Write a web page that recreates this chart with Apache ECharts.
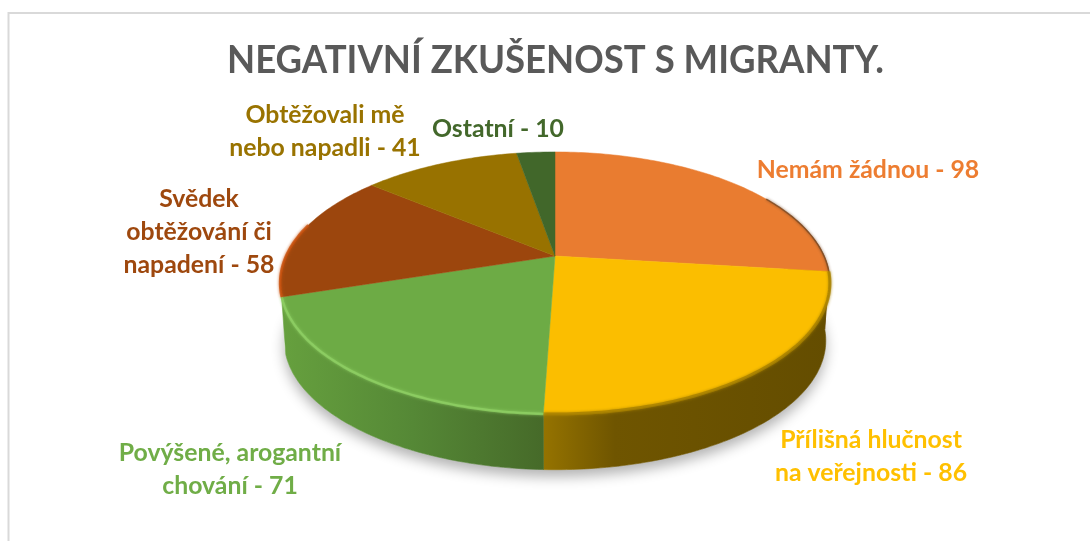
<!DOCTYPE html>
<html><head><meta charset="utf-8">
<style>html,body{margin:0;padding:0;background:#fff}#c{width:1090px;height:541px}</style>
<script src="https://cdn.jsdelivr.net/npm/echarts@6/dist/echarts.min.js"></script>
</head><body><div id="c"></div>
<script>
const chartTitle = 'NEGATIVNÍ ZKUŠENOST S MIGRANTY.';
const categories = ['Nemám žádnou', 'Přílišná hlučnost\nna veřejnosti', 'Povýšené, arogantní\nchování', 'Svědek\nobtěžování či\nnapadení', 'Obtěžovali mě\nnebo napadli', 'Ostatní'];
const values = [98, 86, 71, 58, 41, 10];
const topColors = ['#E97C30', '#FBBE00', '#6DAB45', '#9C460D', '#987200', '#41672A'];
const labelColors = ['#ED7D31', '#FFC000', '#70AD47', '#9E480E', '#997300', '#43682B'];
const sideStops = [
  [[0, '#8f5a2a'], [1, '#6e4318']],
  [[0, '#957300'], [0.25, '#6f5500'], [1, '#644d00']],
  [[0, '#66a03e'], [0.5, '#558836'], [1, '#466a29']],
  null, null, null
];
const rimColors = ['#7a4a24', '#a88100', '#8fd064', '#c9530f', null, null];
const rimWidths = [1.5, 3, 2.5, 2.5, 0, 0];
const labelAnchors = [[868,170],[871,457],[230,470],[199,232],[325,132],[498,129]];

const total = values.reduce((a, b) => a + b, 0);
const starts = [];
values.reduce((acc, v, i) => (starts[i] = acc, acc + v), 0);

// Perspective projection of the pie disc: 0 deg at the top, running clockwise.
const CX = 555, CY = 256, BX = 269, AY = 125.5, K = 0.206;
function topRim(th) {
  const r = th * Math.PI / 180, w = 1 + K * Math.cos(r);
  return [CX + BX * Math.sin(r) / w, CY - AY * Math.cos(r) / w];
}
function bottomRim(th) {
  const r = th * Math.PI / 180, w = 1 + K * Math.cos(r), S = 0.985, D = 58;
  return [CX + BX * S * Math.sin(r) / w, CY + D - AY * S * Math.cos(r) / w];
}
function arc(fn, a, b) {
  const pts = [], n = Math.max(2, Math.ceil(Math.abs(b - a)));
  for (let i = 0; i <= n; i++) pts.push(fn(a + (b - a) * i / n));
  return pts;
}
function angles(i) {
  return [starts[i] / total * 360, (starts[i] + values[i]) / total * 360];
}

const dataRows = values.map((v) => [v]);

function renderShadow(params) {
  if (params.dataIndex !== 0) return;
  return { type: 'polygon', silent: true,
    shape: { points: arc(bottomRim, 60, 270) },
    style: { fill: '#fff', shadowBlur: 13, shadowColor: 'rgba(0,0,0,0.3)', shadowOffsetY: 7 } };
}
function renderSide(params) {
  const i = params.dataIndex, [a0, b0] = angles(i);
  if (!sideStops[i]) return;
  const a = Math.max(a0, 70), b = b0;
  const t = arc(topRim, a, b), bt = arc(bottomRim, b, a);
  const pts = t.concat(bt);
  const xs = pts.map(p => p[0]);
  const minX = Math.min(...xs), maxX = Math.max(...xs);
  const grad = { type: 'linear', global: true, x: minX, y: 0, x2: maxX, y2: 0,
    colorStops: sideStops[i].map(s => ({ offset: s[0], color: s[1] })) };
  return { type: 'polygon', silent: true, shape: { points: pts }, style: { fill: grad, stroke: grad, lineWidth: 0.6 } };
}
function renderTop(params, api) {
  const i = params.dataIndex, [a, b] = angles(i);
  const children = [{ type: 'polygon', silent: true, z2: 1,
    shape: { points: [[CX, CY]].concat(arc(topRim, a, b)) },
    style: { fill: topColors[i], stroke: topColors[i], lineWidth: 0.5 } }];
  const ra = Math.max(a, 60), rb = Math.min(b, 285);
  if (rimColors[i] && rb > ra) {
    children.push({ type: 'polyline', silent: true, z2: 2,
      shape: { points: arc(topRim, ra, rb) },
      style: { fill: 'none', stroke: rimColors[i], lineWidth: rimWidths[i],
        opacity: 0.8, shadowBlur: 3, shadowColor: rimColors[i] } });
  }
  children.push({ type: 'text', silent: true, z2: 5,
    style: { text: categories[i] + ' - ' + api.value(0), x: labelAnchors[i][0], y: labelAnchors[i][1],
      fill: labelColors[i], font: 'bold 24.8px Lato', align: 'center', verticalAlign: 'middle', lineHeight: 33 } });
  return { type: 'group', children };
}

const chart = echarts.init(document.getElementById('c'), null, { renderer: 'canvas' });
chart.setOption({
  animation: false,
  backgroundColor: '#fff',
  graphic: [
    { type: 'polyline', silent: true, shape: { points: [[8.5, 541], [8.5, 13], [1090, 13]] },
      style: { fill: 'none', stroke: '#d9d9d9', lineWidth: 2 } },
    { type: 'text', silent: true, x: 555.5, y: 61, scaleX: 0.962, originX: 0, originY: 0,
      style: { text: chartTitle, x: 0, y: 0, fill: '#595959', font: 'bold 38px Lato', align: 'center', verticalAlign: 'middle' } }
  ],
  series: [
    { type: 'custom', coordinateSystem: 'none', data: dataRows, renderItem: renderShadow, z: 2, silent: true },
    { type: 'custom', coordinateSystem: 'none', data: dataRows, renderItem: renderSide, z: 3, silent: true },
    { type: 'custom', coordinateSystem: 'none', data: dataRows, renderItem: renderTop, z: 4, silent: true }
  ]
});
</script></body></html>
